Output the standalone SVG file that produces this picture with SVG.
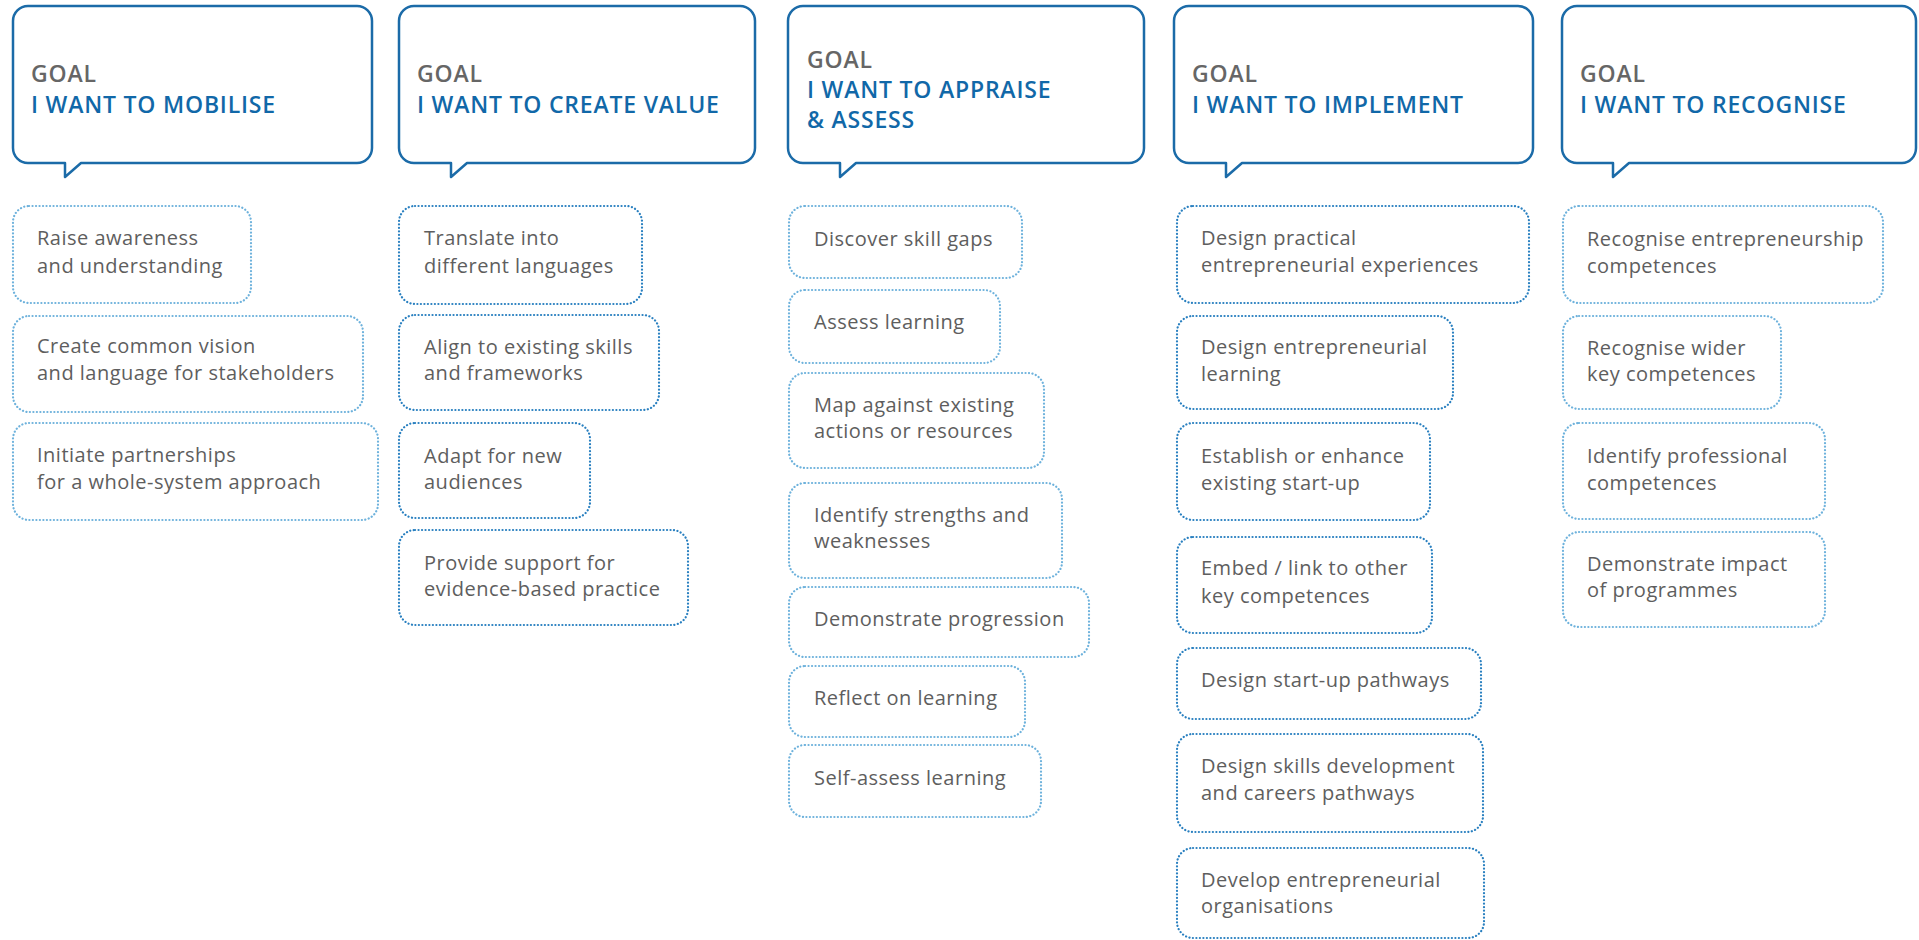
<svg xmlns="http://www.w3.org/2000/svg" width="1919" height="940" viewBox="0 0 1919 940">
<style>
.goal{fill:#fff;stroke:#1b6ba8;stroke-width:2.5;stroke-linejoin:round}
.gl{font-family:"Open Sans","Noto Sans",sans-serif;font-size:23px;font-weight:600;letter-spacing:0.8px;fill:#666}
.gt{font-family:"Open Sans","Noto Sans",sans-serif;font-size:23px;font-weight:600;letter-spacing:0.8px;fill:#1168a8}
.it{fill:none;stroke-width:2.2;stroke-linecap:round;stroke-dasharray:0.1 3.4}
.lt{stroke:#6eb2dc}
.dk{stroke:#2a80c0}
.tx{font-family:"Open Sans","Noto Sans",sans-serif;font-size:20px;letter-spacing:0.5px;fill:#5e5e5e}
</style>
<rect width="1919" height="940" fill="#fff"/>
<g id="goal1"><path class="goal" d="M28,6 H357 A15,15 0 0 1 372,21 V148 A15,15 0 0 1 357,163 H81 L65,177 V163 H28 A15,15 0 0 1 13,148 V21 A15,15 0 0 1 28,6 Z"/><text class="gl" x="31" y="82">GOAL</text><text class="gt" x="31" y="113">I WANT TO MOBILISE</text></g>
<g id="goal2"><path class="goal" d="M414,6 H740 A15,15 0 0 1 755,21 V148 A15,15 0 0 1 740,163 H467 L451,177 V163 H414 A15,15 0 0 1 399,148 V21 A15,15 0 0 1 414,6 Z"/><text class="gl" x="417" y="82">GOAL</text><text class="gt" x="417" y="113">I WANT TO CREATE VALUE</text></g>
<g id="goal3"><path class="goal" d="M803,6 H1129 A15,15 0 0 1 1144,21 V148 A15,15 0 0 1 1129,163 H856 L840,177 V163 H803 A15,15 0 0 1 788,148 V21 A15,15 0 0 1 803,6 Z"/><text class="gl" x="807" y="68">GOAL</text><text class="gt" x="807" y="98">I WANT TO APPRAISE</text><text class="gt" x="807" y="128">&amp; ASSESS</text></g>
<g id="goal4"><path class="goal" d="M1189,6 H1518 A15,15 0 0 1 1533,21 V148 A15,15 0 0 1 1518,163 H1242 L1226,177 V163 H1189 A15,15 0 0 1 1174,148 V21 A15,15 0 0 1 1189,6 Z"/><text class="gl" x="1192" y="82">GOAL</text><text class="gt" x="1192" y="113">I WANT TO IMPLEMENT</text></g>
<g id="goal5"><path class="goal" d="M1577,6 H1902 A14,15 0 0 1 1916,21 V148 A14,15 0 0 1 1902,163 H1629 L1613,177 V163 H1577 A15,15 0 0 1 1562,148 V21 A15,15 0 0 1 1577,6 Z"/><text class="gl" x="1580" y="82">GOAL</text><text class="gt" x="1580" y="113">I WANT TO RECOGNISE</text></g>

<g id="c1-1"><rect class="it lt" x="13" y="206" width="238" height="97" rx="16"/><text class="tx" x="37" y="245">Raise awareness</text><text class="tx" x="37" y="273">and understanding</text></g>
<g id="c1-2"><rect class="it lt" x="13" y="316" width="350" height="96" rx="16"/><text class="tx" x="37" y="353">Create common vision</text><text class="tx" x="37" y="380">and language for stakeholders</text></g>
<g id="c1-3"><rect class="it lt" x="13" y="423" width="365" height="97" rx="16"/><text class="tx" x="37" y="462">Initiate partnerships</text><text class="tx" x="37" y="489">for a whole-system approach</text></g>

<g id="c2-1"><rect class="it dk" x="399" y="206" width="243" height="98" rx="16"/><text class="tx" x="424" y="245">Translate into</text><text class="tx" x="424" y="273">different languages</text></g>
<g id="c2-2"><rect class="it dk" x="399" y="315" width="260" height="95" rx="16"/><text class="tx" x="424" y="354">Align to existing skills</text><text class="tx" x="424" y="380">and frameworks</text></g>
<g id="c2-3"><rect class="it dk" x="399" y="423" width="191" height="95" rx="16"/><text class="tx" x="424" y="463">Adapt for new</text><text class="tx" x="424" y="489">audiences</text></g>
<g id="c2-4"><rect class="it dk" x="399" y="530" width="289" height="95" rx="16"/><text class="tx" x="424" y="570">Provide support for</text><text class="tx" x="424" y="596">evidence-based practice</text></g>

<g id="c3-1"><rect class="it lt" x="789" y="206" width="233" height="72" rx="16"/><text class="tx" x="814" y="246">Discover skill gaps</text></g>
<g id="c3-2"><rect class="it lt" x="789" y="290" width="211" height="73" rx="16"/><text class="tx" x="814" y="329">Assess learning</text></g>
<g id="c3-3"><rect class="it lt" x="789" y="373" width="255" height="95" rx="16"/><text class="tx" x="814" y="412">Map against existing</text><text class="tx" x="814" y="438">actions or resources</text></g>
<g id="c3-4"><rect class="it lt" x="789" y="483" width="273" height="95" rx="16"/><text class="tx" x="814" y="522">Identify strengths and</text><text class="tx" x="814" y="548">weaknesses</text></g>
<g id="c3-5"><rect class="it lt" x="789" y="587" width="300" height="70" rx="16"/><text class="tx" x="814" y="626">Demonstrate progression</text></g>
<g id="c3-6"><rect class="it lt" x="789" y="666" width="236" height="71" rx="16"/><text class="tx" x="814" y="705">Reflect on learning</text></g>
<g id="c3-7"><rect class="it lt" x="789" y="745" width="252" height="72" rx="16"/><text class="tx" x="814" y="785">Self-assess learning</text></g>

<g id="c4-1"><rect class="it dk" x="1177" y="206" width="352" height="97" rx="16"/><text class="tx" x="1201" y="245">Design practical</text><text class="tx" x="1201" y="272">entrepreneurial experiences</text></g>
<g id="c4-2"><rect class="it dk" x="1177" y="316" width="276" height="93" rx="16"/><text class="tx" x="1201" y="354">Design entrepreneurial</text><text class="tx" x="1201" y="381">learning</text></g>
<g id="c4-3"><rect class="it dk" x="1177" y="423" width="253" height="97" rx="16"/><text class="tx" x="1201" y="463">Establish or enhance</text><text class="tx" x="1201" y="490">existing start-up</text></g>
<g id="c4-4"><rect class="it dk" x="1177" y="537" width="255" height="96" rx="16"/><text class="tx" x="1201" y="575">Embed / link to other</text><text class="tx" x="1201" y="603">key competences</text></g>
<g id="c4-5"><rect class="it dk" x="1177" y="648" width="304" height="71" rx="16"/><text class="tx" x="1201" y="687">Design start-up pathways</text></g>
<g id="c4-6"><rect class="it dk" x="1177" y="734" width="306" height="98" rx="16"/><text class="tx" x="1201" y="773">Design skills development</text><text class="tx" x="1201" y="800">and careers pathways</text></g>
<g id="c4-7"><rect class="it dk" x="1177" y="848" width="307" height="90" rx="16"/><text class="tx" x="1201" y="887">Develop entrepreneurial</text><text class="tx" x="1201" y="913">organisations</text></g>

<g id="c5-1"><rect class="it lt" x="1563" y="206" width="320" height="97" rx="16"/><text class="tx" x="1587" y="246">Recognise entrepreneurship</text><text class="tx" x="1587" y="273">competences</text></g>
<g id="c5-2"><rect class="it lt" x="1563" y="316" width="218" height="93" rx="16"/><text class="tx" x="1587" y="355">Recognise wider</text><text class="tx" x="1587" y="381">key competences</text></g>
<g id="c5-3"><rect class="it lt" x="1563" y="423" width="262" height="96" rx="16"/><text class="tx" x="1587" y="463">Identify professional</text><text class="tx" x="1587" y="490">competences</text></g>
<g id="c5-4"><rect class="it lt" x="1563" y="532" width="262" height="95" rx="16"/><text class="tx" x="1587" y="571">Demonstrate impact</text><text class="tx" x="1587" y="597">of programmes</text></g>
<g id="connectors"></g>
</svg>
